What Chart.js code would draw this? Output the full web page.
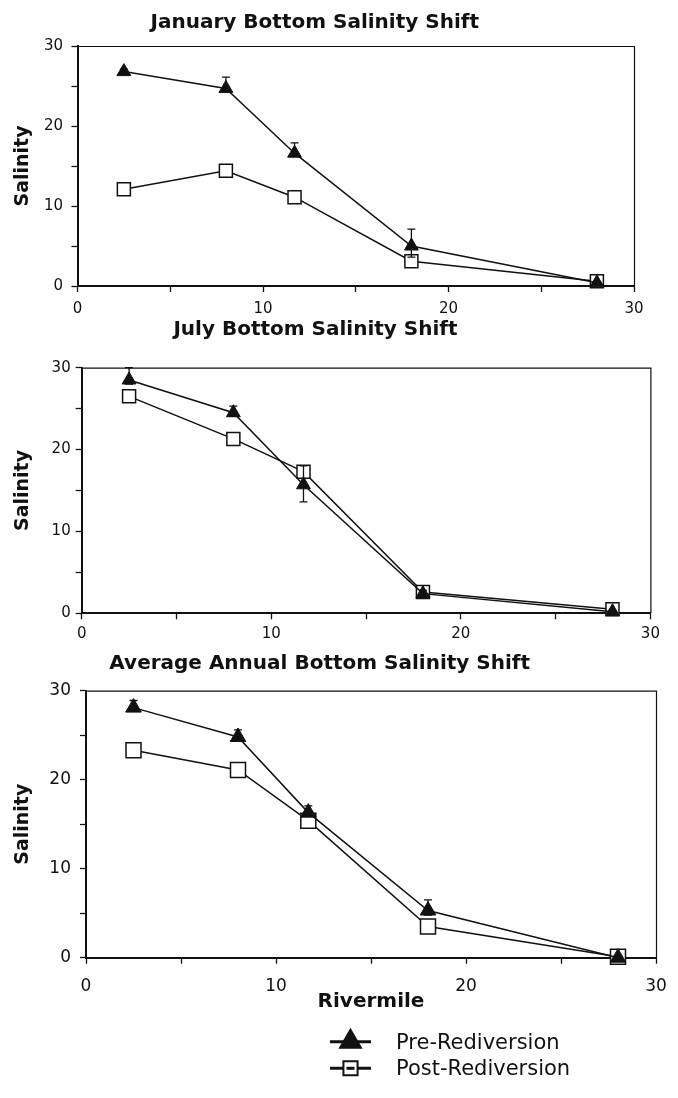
<!DOCTYPE html>
<html>
<head>
<meta charset="utf-8">
<script src="https://cdn.jsdelivr.net/npm/chart.js@4.4.1/dist/chart.umd.min.js"></script>
<style>
  html, body { margin: 0; padding: 0; background: #fff; }
  body { width: 678px; height: 1098px; position: relative; overflow: hidden; }
  canvas.panel { position: absolute; left: -30px; }
</style>
</head>
<body>
<canvas id="jan" class="panel"></canvas>
<canvas id="jul" class="panel"></canvas>
<canvas id="avg" class="panel"></canvas>
<script>
// Sampling stations along the river (river mile)
const rivermile = [2.5, 8, 11.7, 18, 28];
// Labelled tick values on both axes (minor ticks every 5)
const axisTicks = [0, 10, 20, 30];
const seriesNames = ['Pre-Rediversion', 'Post-Rediversion'];

// January bottom salinity
const janPre = [26.8, 24.7, 16.6, 5.0, 0.4];
const janPreErrUp = [0.3, 1.4, 1.3, 2.1, 0.1];
const janPreErrDown = [0.3, 0.4, 0.4, 1.4, 0.1];
const janPost = [12.1, 14.4, 11.1, 3.1, 0.6];

// July bottom salinity
const julPre = [28.5, 24.5, 15.7, 2.4, 0.2];
const julPreErrUp = [1.5, 0.8, 2.3, 0.4, 0.1];
const julPreErrDown = [0.5, 0.4, 2.1, 0.4, 0.1];
const julPost = [26.5, 21.3, 17.3, 2.6, 0.5];

// Average annual bottom salinity
const avgPre = [28.1, 24.8, 16.3, 5.3, 0.0];
const avgPreErrUp = [0.8, 0.8, 0.75, 1.2, 0.1];
const avgPreErrDown = [0.4, 0.4, 0.4, 0.5, 0.1];
const avgPost = [23.3, 21.1, 15.4, 3.5, 0.1];

const INK = '#111';
Chart.defaults.font.family = "'DejaVu Sans', sans-serif";
Chart.defaults.color = INK;

// Vertical error bars (value + up / value - down) drawn on top of the markers
const errorBarPlugin = {
  id: 'errorBars',
  afterDatasetsDraw(chart) {
    const { ctx } = chart;
    const yScale = chart.scales.y;
    chart.data.datasets.forEach((ds, i) => {
      if (!ds.errorUp) return;
      const meta = chart.getDatasetMeta(i);
      ctx.save();
      ctx.strokeStyle = INK;
      ctx.lineWidth = 1.3;
      meta.data.forEach((pt, j) => {
        const up = ds.errorUp[j], down = ds.errorDown[j];
        if (!up && !down) return;
        const v = ds.data[j].y;
        const top = yScale.getPixelForValue(v + up);
        const bot = yScale.getPixelForValue(v - down);
        const cap = 4;
        ctx.beginPath();
        ctx.moveTo(pt.x, top); ctx.lineTo(pt.x, bot);
        ctx.moveTo(pt.x - cap, top); ctx.lineTo(pt.x + cap, top);
        ctx.moveTo(pt.x - cap, bot); ctx.lineTo(pt.x + cap, bot);
        ctx.stroke();
      });
      ctx.restore();
    });
  }
};

// Top and right edges of the plot box
const framePlugin = {
  id: 'frame',
  afterDraw(chart) {
    const { ctx, chartArea: a } = chart;
    ctx.save();
    ctx.strokeStyle = INK;
    ctx.lineWidth = 1.2;
    ctx.beginPath();
    ctx.moveTo(a.left, a.top + 0.5);
    ctx.lineTo(a.right + 0.5, a.top + 0.5);
    ctx.lineTo(a.right + 0.5, a.bottom);
    ctx.stroke();
    ctx.restore();
  }
};

// Legend with a line segment through each marker
const lineLegendPlugin = {
  id: 'lineLegend',
  afterDraw(chart, args, opts) {
    if (!opts.display) return;
    const { ctx } = chart;
    chart.data.datasets.forEach((ds, i) => {
      const y = opts.y + i * opts.rowGap;
      const cx = opts.x + opts.lineLength / 2;
      ctx.save();
      ctx.strokeStyle = ds.borderColor;
      ctx.lineWidth = opts.lineWidth;
      ctx.beginPath();
      ctx.moveTo(opts.x, y);
      ctx.lineTo(opts.x + opts.lineLength, y);
      ctx.stroke();
      ctx.fillStyle = ds.pointBackgroundColor;
      ctx.strokeStyle = ds.pointBorderColor;
      ctx.lineWidth = 2;
      Chart.helpers.drawPoint(ctx, {
        pointStyle: ds.pointStyle,
        radius: opts.radius[i],
        borderWidth: 2,
        rotation: 0
      }, cx, y);
      if (ds.pointStyle === 'rect') {
        ctx.strokeStyle = ds.borderColor;
        ctx.lineWidth = opts.lineWidth;
        ctx.beginPath();
        ctx.moveTo(cx - 4, y);
        ctx.lineTo(cx + 4, y);
        ctx.stroke();
      }
      ctx.fillStyle = INK;
      ctx.font = opts.font;
      ctx.textBaseline = 'alphabetic';
      ctx.textAlign = 'left';
      ctx.fillText(ds.label, opts.textX, y + opts.baselineShift);
      ctx.restore();
    });
  }
};

function makePanel(p) {
  const canvas = document.getElementById(p.id);
  canvas.width = 730;
  canvas.height = p.height;
  canvas.style.top = p.top + 'px';
  canvas.style.width = '730px';
  canvas.style.height = p.height + 'px';

  const datasets = [
    {
      label: seriesNames[0],
      data: rivermile.map((x, i) => ({ x, y: p.pre[i] })),
      errorUp: p.errUp,
      errorDown: p.errDown,
      borderColor: INK,
      borderWidth: 1.5,
      pointStyle: 'triangle',
      pointRadius: p.triR,
      pointBackgroundColor: INK,
      pointBorderColor: INK,
      pointBorderWidth: 1,
      tension: 0,
      fill: false,
      clip: false
    },
    {
      label: seriesNames[1],
      data: rivermile.map((x, i) => ({ x, y: p.post[i] })),
      borderColor: INK,
      borderWidth: 1.5,
      pointStyle: 'rect',
      pointRadius: p.rectR,
      pointBackgroundColor: '#fff',
      pointBorderColor: INK,
      pointBorderWidth: 1.5,
      tension: 0,
      fill: false,
      clip: false
    }
  ];

  const tickLabel = v => (axisTicks.includes(v) ? String(v) : '');

  return new Chart(canvas, {
    type: 'line',
    data: { datasets },
    plugins: [errorBarPlugin, framePlugin, lineLegendPlugin],
    options: {
      responsive: false,
      animation: false,
      devicePixelRatio: 1,
      layout: { padding: { left: p.padL, right: p.padR, top: p.padT, bottom: p.padB } },
      plugins: {
        legend: { display: false },
        tooltip: { enabled: false },
        title: {
          display: true,
          text: p.title,
          color: INK,
          font: { size: 20, weight: 'bold' },
          padding: { top: 0, bottom: p.titleGap }
        },
        lineLegend: p.legend || { display: false }
      },
      scales: {
        x: {
          type: 'linear',
          min: 0, max: 30,
          afterFit: s => { s.height = p.xH; },
          border: { color: INK, width: 2 },
          grid: { drawOnChartArea: false, drawTicks: true, tickLength: 6, color: INK, tickWidth: 1.3 },
          ticks: {
            stepSize: 5, autoSkip: false, maxRotation: 0,
            padding: p.xTickPad,
            font: { size: p.tickSize },
            color: INK,
            callback: tickLabel
          },
          title: p.xTitle
            ? { display: true, text: p.xTitle, color: INK, font: { size: 20, weight: 'bold' }, padding: { top: 0, bottom: p.xTitlePad } }
            : { display: false }
        },
        y: {
          type: 'linear',
          min: 0, max: 30,
          afterFit: s => { s.width = p.yW; },
          border: { color: INK, width: 2 },
          grid: { drawOnChartArea: false, drawTicks: true, tickLength: 6, color: INK, tickWidth: 1.3 },
          ticks: {
            stepSize: 5, autoSkip: false,
            padding: p.yTickPad,
            font: { size: p.tickSize },
            color: INK,
            callback: tickLabel
          },
          title: {
            display: true,
            text: 'Salinity',
            color: INK,
            font: { size: 19, weight: 'bold' },
            padding: { top: p.yTitlePad, bottom: 0 }
          }
        }
      }
    }
  });
}

makePanel({
  id: 'jan', top: 0, height: 320,
  title: 'January Bottom Salinity Shift',
  pre: janPre, errUp: janPreErrUp, errDown: janPreErrDown, post: janPost,
  padL: 25.6, padR: 66, padT: 11, padB: 4, titleGap: 11,
  yW: 81.9, xH: 30, tickSize: 15, xTickPad: 8, yTickPad: 8.5, yTitlePad: 16,
  triR: 8, rectR: 9.2
});

makePanel({
  id: 'jul', top: 310, height: 335,
  title: 'July Bottom Salinity Shift',
  pre: julPre, errUp: julPreErrUp, errDown: julPreErrDown, post: julPost,
  padL: 10.6, padR: 49.6, padT: 8, padB: 3.7, titleGap: 25.7,
  yW: 101.1, xH: 28, tickSize: 15, xTickPad: 5.7, yTickPad: 5, yTitlePad: 31,
  triR: 8, rectR: 9.2
});

makePanel({
  id: 'avg', top: 640, height: 458,
  title: 'Average Annual Bottom Salinity Shift',
  pre: avgPre, errUp: avgPreErrUp, errDown: avgPreErrDown, post: avgPost,
  padL: 13.4, padR: 44, padT: 11.3, padB: 82.3, titleGap: 15.4,
  yW: 102.6, xH: 58, tickSize: 17, xTickPad: 12.8, yTickPad: 9, yTitlePad: 28.2,
  xTitle: 'Rivermile', xTitlePad: 2,
  triR: 9, rectR: 10.6,
  legend: {
    display: true,
    x: 360, y: 401.7, rowGap: 26.6, lineLength: 41, lineWidth: 3,
    radius: [12, 10], textX: 426, baselineShift: 7,
    font: "21px 'DejaVu Sans', sans-serif"
  }
});
</script>
</body>
</html>
